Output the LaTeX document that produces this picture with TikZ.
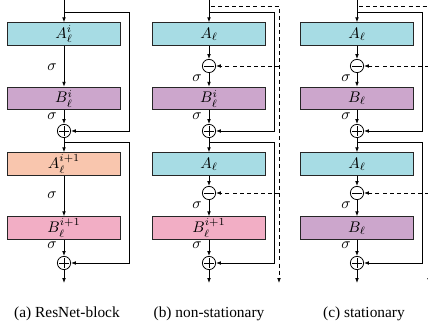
\documentclass[tikz,border=0pt]{standalone}
\usepackage{fontspec}
\setmainfont{Liberation Serif}
\usetikzlibrary{arrows.meta}
\definecolor{cyanbox}{HTML}{A7DCE4}
\definecolor{purplebox}{HTML}{CCA6CC}
\definecolor{peachbox}{HTML}{F9C6AE}
\definecolor{pinkbox}{HTML}{F2AEC5}
\begin{document}
\begin{tikzpicture}[x=0.65pt,y=-0.65pt,
  >={Latex[length=3.2pt,width=2.4pt]},
  line width=0.5pt,
  layer/.style={draw=black!85, line width=0.6pt, minimum width=74pt, minimum height=14.6pt, inner sep=0pt},
  opcirc/.style={circle, draw, fill=white, minimum size=8.6pt, inner sep=0pt},
  plusop/.style={opcirc, path picture={
     \draw[line width=0.4pt] ([xshift=-3.1pt]path picture bounding box.center) -- ([xshift=3.1pt]path picture bounding box.center);
     \draw[line width=0.4pt] ([yshift=-3.1pt]path picture bounding box.center) -- ([yshift=3.1pt]path picture bounding box.center);}},
  minusop/.style={opcirc, path picture={
     \draw[line width=0.4pt] ([xshift=-3.1pt]path picture bounding box.center) -- ([xshift=3.1pt]path picture bounding box.center);}},
  sig/.style={inner sep=0pt},
  dsh/.style={dash pattern=on 2.6pt off 2pt},
  capt/.style={inner sep=0pt, font=\normalsize}
]
\useasboundingbox (0,0) rectangle (428,323);

% ---------------- (a) ResNet-block ----------------
\coordinate (a-top) at (64,0);
\node[layer, fill=cyanbox]   (a-A1) at (64,34)  {$A_\ell^{i}$};
\node[layer, fill=purplebox] (a-B1) at (64,98.5) {$B_\ell^{i}$};
\node[plusop]                (a-P1) at (64,131) {};
\node[layer, fill=peachbox]  (a-A2) at (64,164) {$A_\ell^{i+1}$};
\node[layer, fill=pinkbox]   (a-B2) at (64,228) {$B_\ell^{i+1}$};
\node[plusop]                (a-P2) at (64,263) {};
\coordinate (a-out) at (64,283);
\coordinate (a-s1) at (64,12);
\coordinate (a-r1) at (129,12);
\coordinate (a-s2) at (64,142);
\coordinate (a-r2) at (129,142);
\draw[->] (a-top) -- (a-A1);
\draw[->] (a-A1) -- (a-B1);
\draw[->] (a-B1) -- (a-P1);
\draw[->] (a-P1) -- (a-A2);
\draw[->] (a-A2) -- (a-B2);
\draw[->] (a-B2) -- (a-P2);
\draw[->] (a-P2) -- (a-out);
\draw[->] (a-s1) -- (a-r1) |- (a-P1);
\draw[->] (a-s2) -- (a-r2) |- (a-P2);
\node[sig] (a-l1) at (52,67)  {$\sigma$};
\node[sig] (a-l2) at (52,116) {$\sigma$};
\node[sig] (a-l3) at (52,195) {$\sigma$};
\node[sig] (a-l4) at (52,245) {$\sigma$};
\node[capt] (a-cap) at (67,314) {(a) ResNet-block};

% ---------------- (b) non-stationary ----------------
\coordinate (b-top) at (209,0);
\node[layer, fill=cyanbox]   (b-A1) at (209,34)  {$A_\ell$};
\node[minusop]               (b-M1) at (209,66)  {};
\node[layer, fill=purplebox] (b-B1) at (209,98.5) {$B_\ell^{i}$};
\node[plusop]                (b-P1) at (209,131) {};
\node[layer, fill=cyanbox]   (b-A2) at (209,164) {$A_\ell$};
\node[minusop]               (b-M2) at (209,193) {};
\node[layer, fill=pinkbox]   (b-B2) at (209,228) {$B_\ell^{i+1}$};
\node[plusop]                (b-P2) at (209,263) {};
\coordinate (b-out) at (209,283);
\coordinate (b-s1) at (209,12);
\coordinate (b-r1) at (274,12);
\coordinate (b-s2) at (209,142);
\coordinate (b-r2) at (274,142);
\coordinate (b-d0) at (211,6);
\coordinate (b-d1) at (279,6);
\coordinate (b-dm1) at (279,66);
\coordinate (b-dm2) at (279,193);
\coordinate (b-dend) at (279,283);
\draw[->] (b-top) -- (b-A1);
\draw[->] (b-A1) -- (b-M1);
\draw[->] (b-M1) -- (b-B1);
\draw[->] (b-B1) -- (b-P1);
\draw[->] (b-P1) -- (b-A2);
\draw[->] (b-A2) -- (b-M2);
\draw[->] (b-M2) -- (b-B2);
\draw[->] (b-B2) -- (b-P2);
\draw[->] (b-P2) -- (b-out);
\draw[->] (b-s1) -- (b-r1) |- (b-P1);
\draw[->] (b-s2) -- (b-r2) |- (b-P2);
\draw[->, dsh] (b-d0) -- (b-d1) -- (b-dend);
\draw[->, dsh] (b-dm1) -- (b-M1);
\draw[->, dsh] (b-dm2) -- (b-M2);
\node[sig] (b-l1) at (197,78)  {$\sigma$};
\node[sig] (b-l2) at (197,116) {$\sigma$};
\node[sig] (b-l3) at (197,205) {$\sigma$};
\node[sig] (b-l4) at (197,245) {$\sigma$};
\node[capt] (b-cap) at (209,314) {(b) non-stationary};

% ---------------- (c) stationary ----------------
\coordinate (c-top) at (357,0);
\node[layer, fill=cyanbox]   (c-A1) at (357,34)  {$A_\ell$};
\node[minusop]               (c-M1) at (357,66)  {};
\node[layer, fill=purplebox] (c-B1) at (357,98.5) {$B_\ell$};
\node[plusop]                (c-P1) at (357,131) {};
\node[layer, fill=cyanbox]   (c-A2) at (357,164) {$A_\ell$};
\node[minusop]               (c-M2) at (357,193) {};
\node[layer, fill=purplebox] (c-B2) at (357,228) {$B_\ell$};
\node[plusop]                (c-P2) at (357,263) {};
\coordinate (c-out) at (357,283);
\coordinate (c-s1) at (357,12);
\coordinate (c-r1) at (422,12);
\coordinate (c-s2) at (357,142);
\coordinate (c-r2) at (422,142);
\coordinate (c-d0) at (359,6);
\coordinate (c-d1) at (429,6);
\coordinate (c-dm1) at (429,66);
\coordinate (c-dm2) at (429,193);
\coordinate (c-dend) at (429,283);
\draw[->] (c-top) -- (c-A1);
\draw[->] (c-A1) -- (c-M1);
\draw[->] (c-M1) -- (c-B1);
\draw[->] (c-B1) -- (c-P1);
\draw[->] (c-P1) -- (c-A2);
\draw[->] (c-A2) -- (c-M2);
\draw[->] (c-M2) -- (c-B2);
\draw[->] (c-B2) -- (c-P2);
\draw[->] (c-P2) -- (c-out);
\draw[->] (c-s1) -- (c-r1) |- (c-P1);
\draw[->] (c-s2) -- (c-r2) |- (c-P2);
\draw[->, dsh] (c-d0) -- (c-d1) -- (c-dend);
\draw[->, dsh] (c-dm1) -- (c-M1);
\draw[->, dsh] (c-dm2) -- (c-M2);
\node[sig] (c-l1) at (346,78)  {$\sigma$};
\node[sig] (c-l2) at (346,116) {$\sigma$};
\node[sig] (c-l3) at (346,205) {$\sigma$};
\node[sig] (c-l4) at (346,245) {$\sigma$};
\node[capt] (c-cap) at (364,314) {(c) stationary};
\end{tikzpicture}
\end{document}
